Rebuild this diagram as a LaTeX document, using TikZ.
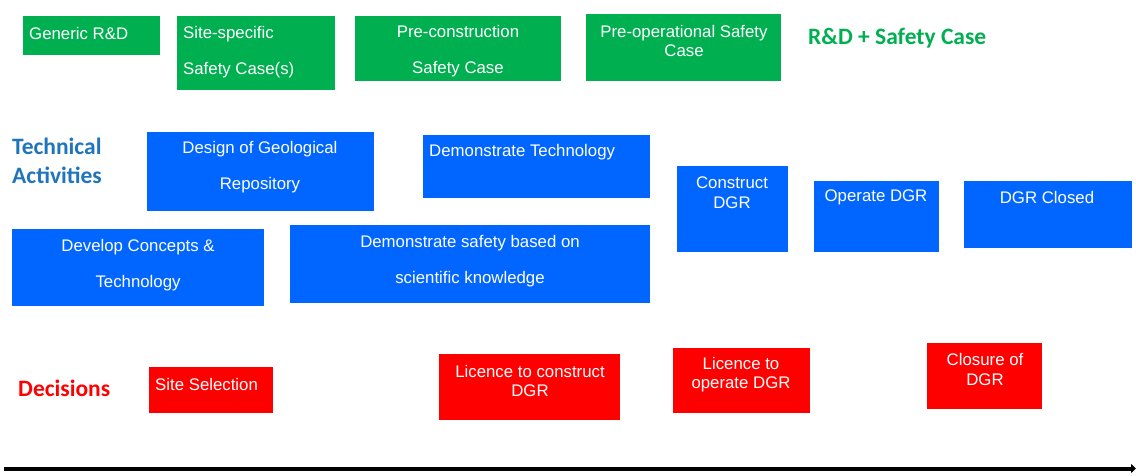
\documentclass[tikz,border=0pt]{standalone}
\usepackage{fontspec}
\setmainfont{Liberation Sans}
\newfontfamily\calib{Carlito}
\usetikzlibrary{arrows.meta}
\definecolor{gfill}{HTML}{00B050}
\definecolor{bfill}{HTML}{0066FF}
\definecolor{rfill}{HTML}{FF0000}
\definecolor{blabel}{HTML}{1F75BC}
\tikzset{
  box/.style={inner sep=0pt, draw=none},
  gbox/.style={box, fill=gfill},
  bbox/.style={box, fill=bfill},
  rbox/.style={box, fill=rfill},
  txt/.style={inner sep=0pt, text=white, font=\fontsize{16.8}{19.5}\selectfont},
  wide/.style={font=\fontsize{16.8}{36}\selectfont},
  lab/.style={inner sep=0pt, anchor=west, font=\calib\bfseries\fontsize{23.5}{29}\selectfont}
}
\begin{document}
\begin{tikzpicture}[x=1pt,y=-1pt]
\useasboundingbox (0,0) rectangle (1136,475);
% green boxes
\node[gbox, minimum width=137, minimum height=39] (gen) at (91.5,35.5) {};
\node[gbox, minimum width=158, minimum height=74] (site) at (256,53) {};
\node[gbox, minimum width=206, minimum height=65] (precon) at (458,48.5) {};
\node[gbox, minimum width=195, minimum height=67] (preop) at (683.5,47.5) {};
% blue boxes
\node[bbox, minimum width=227, minimum height=79] (design) at (260.5,171.5) {};
\node[bbox, minimum width=227, minimum height=63] (demtech) at (536.5,166.5) {};
\node[bbox, minimum width=111, minimum height=86] (construct) at (732.5,209) {};
\node[bbox, minimum width=125, minimum height=71] (operate) at (876.5,216.5) {};
\node[bbox, minimum width=168, minimum height=67] (closed) at (1048,214.5) {};
\node[bbox, minimum width=252, minimum height=77] (develop) at (138,267.5) {};
\node[bbox, minimum width=360, minimum height=78] (demsafe) at (470,264) {};
% red boxes
\node[rbox, minimum width=124, minimum height=46] (sitesel) at (211,390) {};
\node[rbox, minimum width=181, minimum height=66] (liccon) at (529.5,387) {};
\node[rbox, minimum width=137, minimum height=65] (licop) at (741.5,380.5) {};
\node[rbox, minimum width=115, minimum height=66] (closure) at (984.5,376) {};
% texts
\node[txt, anchor=west] (tgen) at (29,33) {Generic R\&D};
\node[txt, wide, anchor=west, align=left] (tsite) at (183,52.5) {Site-specific\\Safety Case(s)};
\node[txt, wide, align=center] (tprecon) at (458,51.5) {Pre-construction\\Safety Case};
\node[txt, align=center] (tpreop) at (684,41) {Pre-operational Safety\\Case};
\node[txt, wide, align=center] (tdesign) at (260,167) {Design of Geological\\Repository};
\node[txt, anchor=west] (tdemtech) at (429,152) {Demonstrate Technology};
\node[txt, align=center] (tconstruct) at (732,192.5) {Construct\\DGR};
\node[txt] (toperate) at (876,197.5) {Operate DGR};
\node[txt] (tclosed) at (1047,197.5) {DGR Closed};
\node[txt, wide, align=center] (tdevelop) at (138,265) {Develop Concepts \&\\Technology};
\node[txt, wide, align=center] (tdemsafe) at (470,261) {Demonstrate safety based on\\scientific knowledge};
\node[txt, anchor=west] (tsitesel) at (155,384) {Site Selection};
\node[txt, align=center] (tliccon) at (530,381) {Licence to construct\\DGR};
\node[txt, align=center] (tlicop) at (741,374.5) {Licence to\\operate DGR};
\node[txt, align=center] (tclosure) at (985,369.5) {Closure of\\DGR};
% row labels
\node[lab, text=gfill] (lrd) at (808,38.5) {R\&D + Safety Case};
\node[lab, text=blabel, align=left] (ltech) at (12,160.5) {Technical\\Activities};
\node[lab, text=rfill] (ldec) at (18,388) {Decisions};
% time arrow
\coordinate (tstart) at (4,468.5);
\coordinate (tend) at (1136,468.5);
\draw[line width=4pt, -{Triangle[length=5pt,width=9pt]}] (tstart) -- (tend);
\end{tikzpicture}
\end{document}
